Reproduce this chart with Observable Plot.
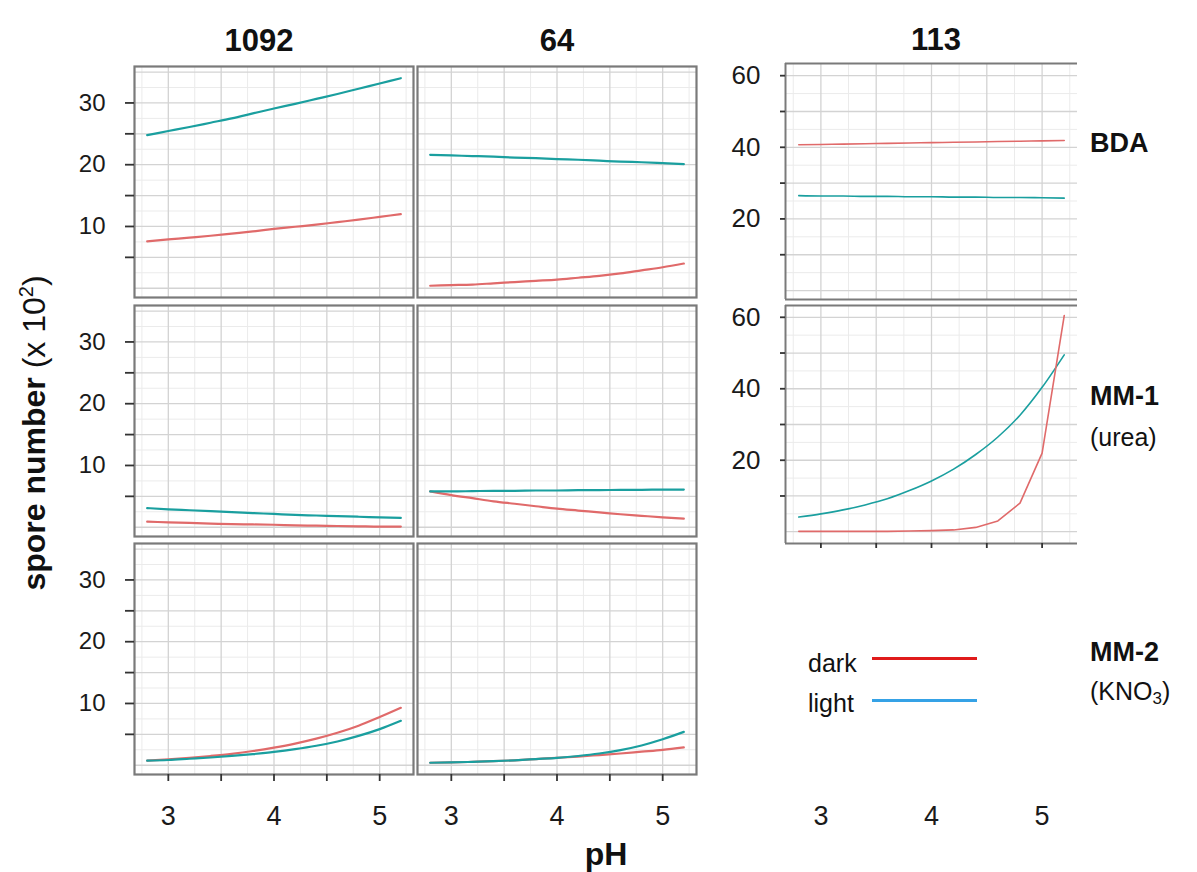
<!DOCTYPE html>
<html><head><meta charset="utf-8">
<script src="https://cdn.jsdelivr.net/npm/d3@7"></script>
<script src="https://cdn.jsdelivr.net/npm/@observablehq/plot@0.6"></script>
<style>
body{margin:0;background:#fff;font-family:"Liberation Sans",Arial,sans-serif;}
#root{position:relative;width:1197px;height:872px;overflow:hidden;background:#fff;}
.abs{position:absolute;white-space:nowrap;color:#111;line-height:1;}
.pl{position:absolute;}
</style></head><body><div id="root"></div>
<script>
// ---------------- data ----------------
const ph = [2.8, 3.0, 3.2, 3.4, 3.6, 3.8, 4.0, 4.2, 4.4, 4.6, 4.8, 5.0, 5.2];
const strains = ["1092", "64", "113"];
const media = ["BDA", "MM-1", "MM-2"];
const series = ["dark", "light"];

const s1092_BDA_dark  = [7.6, 7.9, 8.2, 8.5, 8.85, 9.2, 9.6, 9.95, 10.3, 10.7, 11.1, 11.55, 12.0];
const s1092_BDA_light = [24.8, 25.45, 26.1, 26.8, 27.5, 28.3, 29.1, 29.85, 30.65, 31.45, 32.3, 33.15, 34.0];
const s64_BDA_dark    = [0.4, 0.5, 0.6, 0.8, 1.0, 1.2, 1.4, 1.7, 2.0, 2.4, 2.9, 3.4, 4.0];
const s64_BDA_light   = [21.6, 21.5, 21.4, 21.3, 21.15, 21.05, 20.9, 20.8, 20.65, 20.5, 20.4, 20.25, 20.1];
const s113_BDA_dark   = [40.7, 40.8, 40.9, 41.0, 41.1, 41.2, 41.3, 41.4, 41.5, 41.6, 41.7, 41.8, 41.9];
const s113_BDA_light  = [26.5, 26.4, 26.4, 26.3, 26.3, 26.2, 26.2, 26.1, 26.1, 26.0, 26.0, 25.9, 25.8];

const s1092_MM1_dark  = [0.9, 0.8, 0.7, 0.6, 0.5, 0.45, 0.4, 0.3, 0.25, 0.2, 0.15, 0.1, 0.1];
const s1092_MM1_light = [3.1, 2.9, 2.75, 2.6, 2.45, 2.3, 2.15, 2.0, 1.9, 1.8, 1.7, 1.6, 1.5];
const s64_MM1_dark    = [5.8, 5.2, 4.7, 4.2, 3.8, 3.4, 3.0, 2.7, 2.4, 2.1, 1.85, 1.6, 1.4];
const s64_MM1_light   = [5.8, 5.8, 5.85, 5.9, 5.9, 5.95, 5.95, 6.0, 6.0, 6.05, 6.05, 6.1, 6.1];
const s113_MM1_dark   = [0.1, 0.1, 0.1, 0.1, 0.1, 0.2, 0.3, 0.5, 1.2, 3.0, 8.0, 22.0, 60.5];
const s113_MM1_light  = [4.1, 5.0, 6.1, 7.5, 9.2, 11.5, 14.2, 17.5, 21.6, 26.5, 32.6, 40.4, 49.5];

const s1092_MM2_dark  = [0.75, 0.95, 1.2, 1.5, 1.85, 2.3, 2.85, 3.5, 4.3, 5.25, 6.4, 7.8, 9.3];
const s1092_MM2_light = [0.75, 0.85, 1.05, 1.25, 1.5, 1.8, 2.15, 2.6, 3.15, 3.85, 4.75, 5.85, 7.2];
const s64_MM2_dark    = [0.4, 0.45, 0.55, 0.65, 0.8, 1.0, 1.2, 1.4, 1.65, 1.9, 2.2, 2.5, 2.9];
const s64_MM2_light   = [0.4, 0.45, 0.55, 0.65, 0.8, 1.0, 1.2, 1.5, 1.9, 2.45, 3.2, 4.2, 5.4];

// tick values
const xTicks = [3, 3.5, 4, 4.5, 5];
const xMinorGrid = [2.75, 3.25, 3.75, 4.25, 4.75, 5.25];
const yTicksLeft = [5, 10, 15, 20, 25, 30];
const yMajorLeft = [0, 5, 10, 15, 20, 25, 30, 35];
const yMinorLeft = [2.5, 7.5, 12.5, 17.5, 22.5, 27.5, 32.5];
const yTicksRight = [10, 20, 30, 40, 50, 60];
const yMajorRight = [0, 10, 20, 30, 40, 50, 60];
const yMinorRight = [5, 15, 25, 35, 45, 55];

// ---------------- helpers ----------------
const colors = {dark: "#e06a6a", light: "#1a9f9f"};
const root = document.getElementById("root");
const FONT = "Liberation Sans, Arial, sans-serif";
const xDomain = [2.68, 5.32];

function rows(darkArr, lightArr) {
  const out = [];
  ph.forEach((p, i) => out.push({ph: p, v: darkArr[i], s: series[0]}));
  ph.forEach((p, i) => out.push({ph: p, v: lightArr[i], s: series[1]}));
  return out;
}

function panel(o) {
  const marks = [
    Plot.ruleX(xMinorGrid, {stroke: "#ebebeb", strokeWidth: 1}),
    Plot.ruleY(o.yMinor, {stroke: "#ebebeb", strokeWidth: 1}),
    Plot.ruleX(xTicks, {stroke: "#d3d3d3", strokeWidth: 1.3}),
    Plot.ruleY(o.yMajor, {stroke: "#d3d3d3", strokeWidth: 1.3})
  ];
  const sw = o.lineWidth || 2.2;
  if (o.linearDark) {
    marks.push(Plot.line(o.data.filter(d => d.s === series[1]), {x: "ph", y: "v", stroke: "s", strokeWidth: sw, curve: "monotone-x"}));
    marks.push(Plot.line(o.data.filter(d => d.s === series[0]), {x: "ph", y: "v", stroke: "s", strokeWidth: sw, curve: "linear"}));
  } else {
    marks.push(Plot.line(o.data, {x: "ph", y: "v", stroke: "s", z: "s", strokeWidth: sw, curve: "monotone-x"}));
  }
  if (o.rightBorder === false) {
    marks.push(Plot.ruleX([xDomain[0]], {stroke: "#7a7a7a", strokeWidth: 2}));
    marks.push(Plot.ruleY(o.yDomain, {stroke: "#7a7a7a", strokeWidth: 2}));
  } else {
    marks.push(Plot.frame({stroke: "#7a7a7a", strokeWidth: 2.2}));
  }
  if (o.yAxis) {
    marks.push(Plot.axisY(o.yAxis.ticks, {
      tickSize: o.yAxis.size, tickPadding: o.yAxis.pad, strokeWidth: 1.8,
      stroke: "#333", fill: "#1a1a1a", fontSize: o.yAxis.font, label: null,
      tickFormat: o.yAxis.fmt
    }));
  }
  if (o.xAxis) {
    marks.push(Plot.axisX(xTicks, {
      tickSize: o.xAxis.size, tickPadding: o.xAxis.pad, strokeWidth: 1.8,
      stroke: "#333", fill: "#1a1a1a", fontSize: o.xAxis.font, label: null,
      tickFormat: d => (Number.isInteger(d) ? String(d) : "")
    }));
  }
  const svg = Plot.plot({
    width: o.width, height: o.height, margin: 0,
    style: {background: "transparent", overflow: "visible", fontFamily: FONT},
    x: {domain: xDomain, axis: o.xAxis ? undefined : null},
    y: {domain: o.yDomain, axis: o.yAxis ? undefined : null},
    color: {domain: series, range: [colors.dark, colors.light]},
    marks
  });
  const div = document.createElement("div");
  div.className = "pl";
  div.style.left = o.left + "px";
  div.style.top = o.top + "px";
  div.appendChild(svg);
  root.appendChild(div);
}

function text(html, x, y, css, anchor) {
  const d = document.createElement("div");
  d.className = "abs";
  d.innerHTML = html;
  d.style.left = x + "px";
  d.style.top = y + "px";
  d.style.transform = anchor === "left" ? "translate(0,-50%)" : "translate(-50%,-50%)";
  Object.assign(d.style, css || {});
  root.appendChild(d);
  return d;
}

// ---------------- left grid (1092, 64) ----------------
const colX = [134, 417];
const rowY = [66, 305, 543];
const leftDomain = [-1.5, 35.9];
const leftData = [
  [rows(s1092_BDA_dark, s1092_BDA_light), rows(s64_BDA_dark, s64_BDA_light)],
  [rows(s1092_MM1_dark, s1092_MM1_light), rows(s64_MM1_dark, s64_MM1_light)],
  [rows(s1092_MM2_dark, s1092_MM2_light), rows(s64_MM2_dark, s64_MM2_light)]
];
for (let r = 0; r < 3; r++) {
  for (let c = 0; c < 2; c++) {
    panel({
      left: colX[c], top: rowY[r], width: 279, height: 231,
      yDomain: leftDomain, yMajor: yMajorLeft, yMinor: yMinorLeft,
      data: leftData[r][c],
      yAxis: c === 0 ? {ticks: yTicksLeft, size: 9, pad: 20, font: 24,
        fmt: d => (d % 10 === 0 ? String(d) : "")} : null,
      xAxis: r === 2 ? {size: 7, pad: 24, font: 27} : null
    });
  }
}

// ---------------- right column (113) ----------------
panel({
  left: 785, top: 63, width: 292, height: 236,
  yDomain: [-2.5, 63.4], yMajor: yMajorRight, yMinor: yMinorRight,
  data: rows(s113_BDA_dark, s113_BDA_light), rightBorder: false, lineWidth: 1.6,
  yAxis: {ticks: yTicksRight, size: 5, pad: 20, font: 26,
    fmt: d => (d % 20 === 0 ? String(d) : "")},
  xAxis: null
});
panel({
  left: 785, top: 305, width: 292, height: 238,
  yDomain: [-3.3, 63.3], yMajor: yMajorRight, yMinor: yMinorRight,
  data: rows(s113_MM1_dark, s113_MM1_light), rightBorder: false, lineWidth: 1.6, linearDark: true,
  yAxis: {ticks: yTicksRight, size: 5, pad: 20, font: 26,
    fmt: d => (d % 20 === 0 ? String(d) : "")},
  xAxis: {size: 5, pad: 257, font: 27}
});

// ---------------- titles / strips ----------------
const titleCss = {fontWeight: "bold", fontSize: "31px"};
text(strains[0], 259, 40, titleCss);
text(strains[1], 557, 40, titleCss);
text(strains[2], 936, 39, titleCss);

const stripB = {fontWeight: "bold", fontSize: "27px"};
const stripR = {fontSize: "25px"};
text(media[0], 1090, 143, stripB, "left");
text(media[1], 1090, 396, stripB, "left");
text("(urea)", 1090, 437, stripR, "left");
text(media[2], 1090, 652, stripB, "left");
text("(KNO<sub style='font-size:17px;vertical-align:-4px'>3</sub>)", 1090, 693, stripR, "left");

// axis titles
text("<b>spore number</b> (x 10<sup style='font-size:20px;vertical-align:12px'>2</sup>)", 33, 433,
  {fontSize: "32px", transform: "translate(-50%,-50%) rotate(-90deg)"});
text("pH", 606, 854, {fontWeight: "bold", fontSize: "32px"});

// ---------------- legend ----------------
const legendColors = {dark: "#e01b1b", light: "#35a2e6"};
text(series[0], 808, 663, {fontSize: "25px"}, "left");
text(series[1], 808, 703, {fontSize: "25px"}, "left");
[[series[0], 658], [series[1], 700]].forEach(([s, y]) => {
  const l = document.createElement("div");
  l.style.cssText = `position:absolute;left:872px;top:${y - 1.5}px;width:105px;height:3px;background:${legendColors[s]}`;
  root.appendChild(l);
});
</script></body></html>
